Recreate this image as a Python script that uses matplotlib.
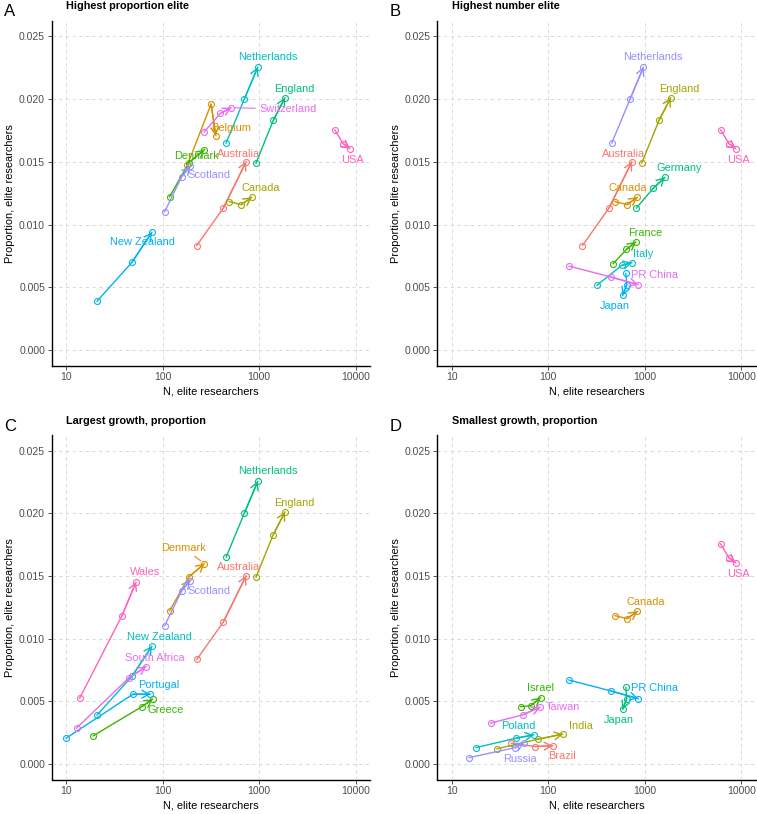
import matplotlib
matplotlib.use('Agg')
import matplotlib.pyplot as plt
from matplotlib.ticker import FixedLocator, NullLocator

plt.rcParams['font.family'] = ['Liberation Sans', 'DejaVu Sans']

# N elite researchers at three time points, per country
n_elite = {
    'Australia': [226, 426, 733],
    'Belgium': [181, 318, 356],
    'Canada': [492, 655, 838],
    'Denmark': [118, 188, 271],
    'England': [929, 1403, 1853],
    'Netherlands': [455, 703, 968],
    'New Zealand': [20.9, 48.2, 77.4],
    'Scotland': [105, 158, 193],
    'Switzerland': [269, 397, 512],
    'USA': [6100, 7430, 8710],
    'France': [470, 646, 807],
    'Germany': [818, 1219, 1610],
    'Italy': [319, 578, 734],
    'Japan': [636, 650, 590],
    'PR China': [164, 445, 853],
    'Greece': [19, 61.1, 78.7],
    'Portugal': [10, 49.3, 74.5],
    'South Africa': [12.8, 44.4, 67.2],
    'Wales': [13.8, 37.9, 53],
    'Brazil': [41.4, 73.4, 111],
    'India': [29.4, 78.2, 141],
    'Israel': [51.8, 65.6, 83.2],
    'Poland': [17.9, 46.4, 70.5],
    'Russia': [15.2, 45.6, 55.6],
    'Taiwan': [25.3, 54.2, 82],
}

# proportion of elite researchers at the same time points
prop_elite = {
    'Australia': [0.00833, 0.01132, 0.0150],
    'Belgium': [0.01476, 0.0196, 0.01709],
    'Canada': [0.01183, 0.01159, 0.01217],
    'Denmark': [0.01222, 0.01494, 0.01598],
    'England': [0.0149, 0.0183, 0.0201],
    'Netherlands': [0.0165, 0.0200, 0.02254],
    'New Zealand': [0.00389, 0.0070, 0.00939],
    'Scotland': [0.01103, 0.01383, 0.01463],
    'Switzerland': [0.01738, 0.01886, 0.01931],
    'USA': [0.01755, 0.01646, 0.01606],
    'France': [0.00688, 0.00802, 0.00862],
    'Germany': [0.01132, 0.01288, 0.01376],
    'Italy': [0.00516, 0.00675, 0.00696],
    'Japan': [0.0061, 0.0052, 0.00435],
    'PR China': [0.00669, 0.00582, 0.00521],
    'Greece': [0.00223, 0.00457, 0.00516],
    'Portugal': [0.00205, 0.00556, 0.00556],
    'South Africa': [0.00285, 0.00684, 0.00777],
    'Wales': [0.00524, 0.01183, 0.0145],
    'Brazil': [0.00165, 0.00138, 0.00144],
    'India': [0.0012, 0.00197, 0.00237],
    'Israel': [0.00457, 0.00463, 0.00529],
    'Poland': [0.0013, 0.00205, 0.00231],
    'Russia': [0.0005, 0.0013, 0.0017],
    'Taiwan': [0.00325, 0.00391, 0.00452],
}

panel_letters = ['A', 'B', 'C', 'D']
panel_titles = ['Highest proportion elite', 'Highest number elite',
                'Largest growth, proportion', 'Smallest growth, proportion']
panel_countries = [
    ['Australia', 'Belgium', 'Canada', 'Denmark', 'England', 'Netherlands',
     'New Zealand', 'Scotland', 'Switzerland', 'USA'],
    ['Australia', 'Canada', 'England', 'France', 'Germany', 'Italy', 'Japan',
     'Netherlands', 'PR China', 'USA'],
    ['Australia', 'Denmark', 'England', 'Greece', 'Netherlands', 'New Zealand',
     'Portugal', 'Scotland', 'South Africa', 'Wales'],
    ['Brazil', 'Canada', 'India', 'Israel', 'Japan', 'Poland', 'PR China',
     'Russia', 'Taiwan', 'USA'],
]

# label offsets from the last point, in pixels (x right, y up), and whether a segment is drawn
label_offsets = [
    {'Netherlands': (10, 10), 'England': (9, 9), 'Switzerland': (57, -1, True),
     'Belgium': (15, 8), 'Denmark': (-8, -6), 'Scotland': (19, -9),
     'Australia': (-8, 8), 'Canada': (9, 9), 'New Zealand': (-9, -10), 'USA': (3, -11)},
    {'Netherlands': (9, 10), 'England': (9, 9), 'Australia': (-8, 8), 'Canada': (-10, 9),
     'Germany': (14, 9), 'France': (9, 9), 'Italy': (11, 9), 'Japan': (-8, -11),
     'PR China': (16, 10), 'USA': (3, -11)},
    {'Netherlands': (10, 10), 'England': (9, 9), 'Denmark': (-21, 16, True),
     'Australia': (-8, 9), 'Wales': (9, 10), 'Scotland': (19, -10),
     'New Zealand': (8, 9), 'South Africa': (9, 9), 'Portugal': (8, 9), 'Greece': (13, -11)},
    {'USA': (3, -11), 'Canada': (8, 9), 'PR China': (16, 11), 'Japan': (-4, -11),
     'Israel': (0, 10), 'Taiwan': (23, 0), 'Poland': (-15, 9), 'India': (18, 8),
     'Brazil': (9, -10), 'Russia': (-4, -16)},
]

hue10 = ['#F8766D', '#D89000', '#A3A500', '#39B600', '#00BF7D',
         '#00BFC4', '#00B0F6', '#9590FF', '#E76BF3', '#FF62BC']

W, H = 757, 814
fig = plt.figure(figsize=(W / 100, H / 100), dpi=100)

# panel boxes in pixels: left, right, top, bottom
boxes = [(51.7, 370, 20.7, 365.7), (437.3, 755.8, 20.7, 365.7),
         (51.7, 370, 435, 779.5), (437.3, 755.8, 435, 779.5)]

for i, (l, r, t, b) in enumerate(boxes):
    ax = fig.add_axes([l / W, 1 - b / H, (r - l) / W, (b - t) / H])
    ax.set_xscale('log')
    ax.set_xlim(10 ** 0.85, 10 ** 4.15)
    ax.set_ylim(-0.00125, 0.02625)
    ax.xaxis.set_major_locator(FixedLocator([10, 100, 1000, 10000]))
    ax.xaxis.set_minor_locator(NullLocator())
    ax.set_xticklabels(['10', '100', '1000', '10000'])
    ax.set_yticks([0, 0.005, 0.01, 0.015, 0.02, 0.025])
    ax.set_yticklabels(['0.000', '0.005', '0.010', '0.015', '0.020', '0.025'])
    ax.grid(True, color='#D3D3D3', linestyle=(0, (4, 4)), linewidth=0.6)
    ax.set_axisbelow(True)
    for s in ['top', 'right']:
        ax.spines[s].set_visible(False)
    for s in ['left', 'bottom']:
        ax.spines[s].set_linewidth(1.0)
    ax.tick_params(axis='both', labelsize=7.5, colors='#333333', labelcolor='#4D4D4D',
                   length=2.75, width=0.6, pad=2)
    ax.set_xlabel('N, elite researchers', fontsize=7.9, labelpad=3)
    ax.set_ylabel('Proportion, elite researchers', fontsize=7.9, labelpad=3)

    countries = panel_countries[i]
    ordered = sorted(countries, key=str.lower)
    for c in countries:
        col = hue10[ordered.index(c)]
        xs, ys = n_elite[c], prop_elite[c]
        ax.plot(xs, ys, color=col, lw=1.0, marker='o', markersize=4.3,
                markerfacecolor='none', markeredgewidth=0.8, zorder=3)
        ax.annotate('', xy=(xs[-1], ys[-1]), xytext=(xs[-2], ys[-2]),
                    arrowprops=dict(arrowstyle='->,head_length=0.5,head_width=0.28',
                                    color=col, lw=1.0, shrinkA=0, shrinkB=0,
                                    mutation_scale=10), zorder=3)
        off = label_offsets[i][c]
        props = None
        if len(off) > 2 and off[2]:
            props = dict(arrowstyle='-', color=col, lw=0.8, shrinkA=1, shrinkB=3)
        ax.annotate(c, xy=(xs[-1], ys[-1]), xytext=(off[0], off[1]),
                    textcoords='offset pixels', ha='center', va='center',
                    fontsize=7.9, color=col, arrowprops=props, zorder=4)

    fig.text((l + 14.3) / W, 1 - (t - 14.4) / H, panel_titles[i], fontsize=7.8,
             fontweight='bold', ha='left', va='center')
    fig.text((l - 41.7) / W, 1 - (t - 8.7) / H, panel_letters[i], fontsize=12,
             ha='center', va='center')

fig.savefig('out.png', dpi=100)
